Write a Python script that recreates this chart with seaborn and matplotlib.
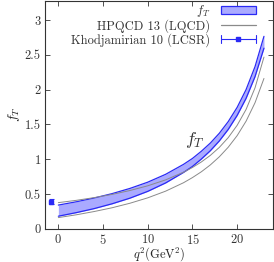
import matplotlib
matplotlib.use("Agg")
import matplotlib.pyplot as plt
import seaborn as sns
import pandas as pd
from matplotlib.patches import Patch
from matplotlib.lines import Line2D
from matplotlib.legend_handler import HandlerBase

q2 = [0, 2, 4, 6, 8, 10, 12, 14, 15, 16, 17, 18, 19, 20, 21, 22, 23]

# f_T band (this work)
ft_upper = [0.340, 0.387, 0.441, 0.504, 0.579, 0.669, 0.782, 0.925, 1.010,
            1.114, 1.231, 1.371, 1.539, 1.744, 2.000, 2.330, 2.765]
ft_lower = [0.180, 0.231, 0.289, 0.358, 0.439, 0.537, 0.658, 0.809, 0.895,
            1.002, 1.121, 1.261, 1.427, 1.628, 1.874, 2.186, 2.595]

# HPQCD 13 (LQCD) error lines
hpqcd_upper = [0.375, 0.408, 0.447, 0.493, 0.549, 0.617, 0.702, 0.812, 0.880,
               0.960, 1.054, 1.168, 1.309, 1.486, 1.715, 2.025, 2.467]
hpqcd_lower = [0.160, 0.200, 0.247, 0.301, 0.366, 0.444, 0.540, 0.661, 0.735,
               0.819, 0.917, 1.033, 1.171, 1.338, 1.546, 1.811, 2.160]

# Khodjamirian 10 (LCSR) point, drawn slightly left of q^2 = 0
lcsr_q2 = [-0.8]
lcsr_val = [0.39]
lcsr_err = [0.032]

xticks = [0, 5, 10, 15, 20]
yticks = [0, 0.5, 1, 1.5, 2, 2.5, 3]
yticklabels = ["0", "0.5", "1", "1.5", "2", "2.5", "3"]

blue = "#2a2af5"
fill_blue = "#aaaaff"
gray = "#8a8a8a"


class ErrorbarHandler(HandlerBase):
    # gnuplot-like legend sample: horizontal bar, end caps, square in the middle
    def create_artists(self, legend, orig_handle, xdescent, ydescent,
                       width, height, fontsize, trans):
        x0 = -xdescent
        x1 = -xdescent + width
        yc = -ydescent + height / 2
        c = height * 0.45
        arts = [
            Line2D([x0, x1], [yc, yc], color=blue, lw=0.8),
            Line2D([x0, x0], [yc - c, yc + c], color=blue, lw=0.8),
            Line2D([x1, x1], [yc - c, yc + c], color=blue, lw=0.8),
            Line2D([(x0 + x1) / 2], [yc], color=blue, lw=0, marker="s", ms=2.2),
        ]
        for a in arts:
            a.set_transform(trans)
        return arts


sns.set_theme(style="ticks")
plt.rcParams["font.family"] = "serif"
plt.rcParams["font.serif"] = ["cmr10", "DejaVu Serif"]
plt.rcParams["mathtext.fontset"] = "cm"
plt.rcParams["axes.formatter.use_mathtext"] = True
plt.rcParams["axes.unicode_minus"] = False

df = pd.DataFrame({"q2": q2, "ft_up": ft_upper, "ft_lo": ft_lower,
                   "hp_up": hpqcd_upper, "hp_lo": hpqcd_lower})

fig = plt.figure(figsize=(2.74, 2.62), dpi=100)
ax = fig.add_axes([0.164, 0.127, 0.832, 0.871])

ax.fill_between(df["q2"], df["ft_lo"], df["ft_up"], color=fill_blue, lw=0)
sns.lineplot(data=df, x="q2", y="ft_up", color=blue, lw=0.9, ax=ax)
sns.lineplot(data=df, x="q2", y="ft_lo", color=blue, lw=0.9, ax=ax)
sns.lineplot(data=df, x="q2", y="hp_up", color=gray, lw=0.7, ax=ax)
sns.lineplot(data=df, x="q2", y="hp_lo", color=gray, lw=0.7, ax=ax)

ax.errorbar(lcsr_q2, lcsr_val, yerr=lcsr_err, fmt="s", ms=2.2, color=blue,
            ecolor=blue, elinewidth=0.8, capsize=1.8, capthick=0.8)

ax.text(14.2, 1.22, "$f_T$", fontsize=13, color="#333333")

ax.set_xlim(-1.5, 24)
ax.set_ylim(0, 3.28)
ax.set_xticks(xticks)
ax.set_yticks(yticks)
ax.set_yticklabels(yticklabels)
ax.set_xlabel("$q^2$(GeV$^2$)", fontsize=9, labelpad=-1.5)
ax.set_ylabel("$f_T$", fontsize=10, labelpad=2)
ax.tick_params(direction="in", length=3.5, width=0.6, labelsize=9,
               top=True, right=True, colors="#333333", pad=3)
for s in ax.spines.values():
    s.set_linewidth(0.8)
    s.set_color("#333333")

band_handle = Patch(facecolor=fill_blue, edgecolor=blue, lw=0.9)
hp_handle = Line2D([], [], color=gray, lw=0.9)
err_handle = Line2D([], [], color=blue)
ax.legend([band_handle, hp_handle, err_handle],
          ["$f_T$", "HPQCD 13 (LQCD)", "Khodjamirian 10 (LCSR)"],
          handler_map={err_handle: ErrorbarHandler()},
          loc="upper right", bbox_to_anchor=(0.957, 1.02), frameon=False,
          markerfirst=False, fontsize=9, handlelength=2.8, handleheight=0.7,
          handletextpad=0.8, labelspacing=0.0, borderpad=0.1,
          labelcolor="#333333")

fig.savefig("out.png", dpi=100)
